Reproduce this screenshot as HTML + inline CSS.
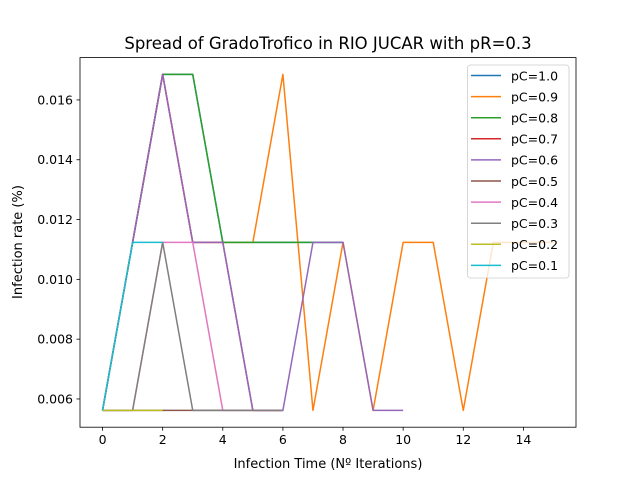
<!DOCTYPE html>
<html><head><meta charset="utf-8"><style>
body{margin:0;background:#fff}
svg{display:block;font-family:"DejaVu Sans","Liberation Sans",sans-serif}
</style></head><body>
<svg id="chart" width="640" height="480">
<rect width="640" height="480" fill="#fff"/>
<text x="328" y="49" font-size="16.5" text-anchor="middle">Spread of GradoTrofico in RIO JUCAR with pR=0.3</text>
<text x="328" y="468" font-size="13" text-anchor="middle">Infection Time (Nº Iterations)</text>
<text transform="translate(22,242) rotate(-90)" font-size="13" text-anchor="middle">Infection rate (%)</text>
<g id="marks"></g><g id="axes"></g><g id="legend"></g>
</svg>
<script>
const a=1/178,b=2/178,c=3/178;
const labels=["pC=1.0","pC=0.9","pC=0.8","pC=0.7","pC=0.6","pC=0.5","pC=0.4","pC=0.3","pC=0.2","pC=0.1"];
const colors=["#1f77b4","#ff7f0e","#2ca02c","#d62728","#9467bd","#8c564b","#e377c2","#7f7f7f","#bcbd22","#17becf"];
const s10=[a,b,c,c,b,b,b,b,b];
const s09=[a,b,c,b,b,b,c,a,b,a,b,b,a,b,b,b];
const s08=[a,b,c,c,b,b,b,b,b];
const s07=[a,b,c,b,b,a,a];
const s06=[a,b,c,b,b,a,a,b,b,a,a];
const s05=[a,a,a,a,a,a,a];
const s04=[a,a,b,b,a,a,a];
const s03=[a,a,b,a,a,a,a];
const s02=[a,a,a];
const s01=[a,b,b];
const series=[s10,s09,s08,s07,s06,s05,s04,s03,s02,s01];
const xTicks=[0,2,4,6,8,10,12,14];
const yTicks=[0.006,0.008,0.010,0.012,0.014,0.016];
const L=80,R=576,T=57.6,B=427.2;
const xmin=-0.75,xmax=15.75,ymin=0.005056,ymax=0.017416;
const X=v=>L+(v-xmin)/(xmax-xmin)*(R-L);
const Y=v=>B-(v-ymin)/(ymax-ymin)*(B-T);
const NS="http://www.w3.org/2000/svg";
const mk=(t,p,at)=>{const e=document.createElementNS(NS,t);for(const k in at)e.setAttribute(k,at[k]);p.appendChild(e);return e;};
const marks=document.getElementById('marks');
series.forEach((s,i)=>{
  const pl=mk('polyline',marks,{points:s.map((v,j)=>X(j)+","+Y(v)).join(" "),fill:"none",stroke:colors[i],"stroke-width":1.5,"stroke-linejoin":"round"});
  
  
});
const axes=document.getElementById('axes');
const fr=mk('rect',axes,{x:L,y:T,width:R-L,height:B-T,fill:"none",stroke:"#000","stroke-width":0.8});


xTicks.forEach(t=>{
  mk('line',axes,{x1:X(t),x2:X(t),y1:B,y2:B+3.5,stroke:"#000","stroke-width":0.8});
  const tx=mk('text',axes,{x:X(t),y:B+17,"font-size":12.5,"text-anchor":"middle"});tx.textContent=t;
  
  
});
yTicks.forEach(t=>{
  mk('line',axes,{x1:L-3.5,x2:L,y1:Y(t),y2:Y(t),stroke:"#000","stroke-width":0.8});
  const tx=mk('text',axes,{x:L-7,y:Y(t)+4.5,"font-size":12.5,"text-anchor":"end"});tx.textContent=t.toFixed(3);
  
  
});
const lg=document.getElementById('legend');


mk('rect',lg,{x:467.5,y:65,width:101.5,height:213,rx:3,fill:"#fff","fill-opacity":0.8,stroke:"#ccc","stroke-width":0.8});
labels.forEach((l,i)=>{
  const y=75.5+i*21.1;
  const g=mk('g',lg,{});
  
  
  mk('line',g,{x1:471,x2:501,y1:y,y2:y,stroke:colors[i],"stroke-width":1.5});
  const tx=mk('text',g,{x:511,y:y+4.8,"font-size":12.5});tx.textContent=l;
});
</script>
</body></html>
